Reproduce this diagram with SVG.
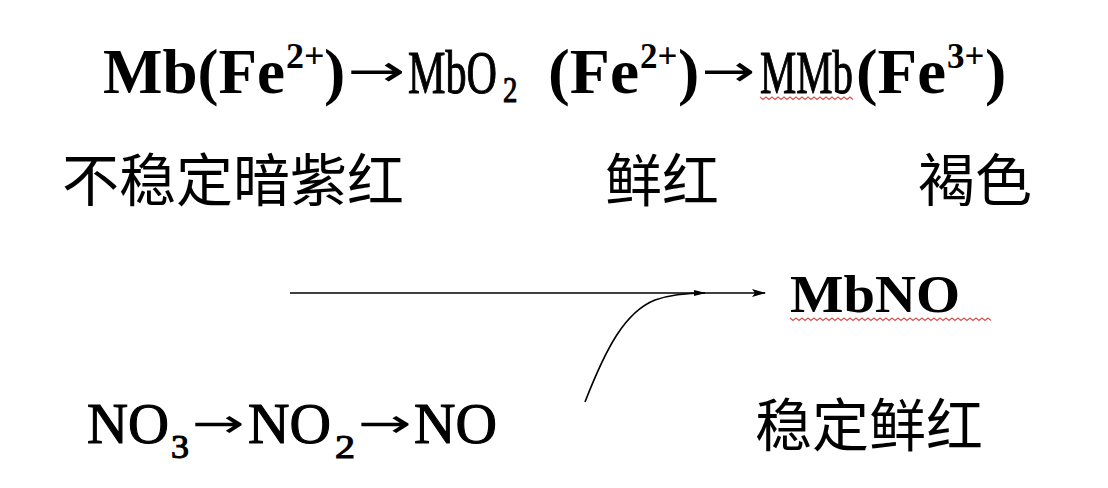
<svg xmlns="http://www.w3.org/2000/svg" width="1108" height="488" viewBox="0 0 1108 488">
<style>
.b{font-family:"Liberation Serif","Times New Roman",serif;font-weight:bold;fill:#000}
.r{font-family:"Liberation Serif","Times New Roman",serif;font-weight:normal;fill:#000;stroke:#000;stroke-width:1.1}
.cn{font-family:"Noto Sans CJK SC","Noto Sans",sans-serif;font-size:57px;fill:#000}
.ar{font-family:"DejaVu Sans","Liberation Serif",serif;fill:#000}
.wave{fill:none;stroke:#d9534f;stroke-width:1.2}
.conn{fill:none;stroke:#000;stroke-width:1.6}
</style>
<defs>
<marker id="ah" markerWidth="14" markerHeight="10" refX="13" refY="5" orient="auto" markerUnits="userSpaceOnUse">
<path d="M0,1 L14,5 L0,9 L3,5 Z" fill="#000"/>
</marker>
<marker id="ah2" markerWidth="12" markerHeight="8" refX="11" refY="4" orient="auto" markerUnits="userSpaceOnUse">
<path d="M0,1 L12,4 L0,7 Z" fill="#000"/>
</marker>
</defs>
<rect width="1108" height="488" fill="#fff"/>

<g id="mb-fe2">
<text class="b" x="103" y="93" font-size="64" textLength="182" lengthAdjust="spacingAndGlyphs">Mb(Fe</text>
<text class="b" x="286" y="68" font-size="36">2+</text>
<text class="b" x="324" y="93" font-size="64">)</text>
</g>
<g id="arrow1"><text class="ar" x="347" y="86" font-size="44" textLength="58" lengthAdjust="spacingAndGlyphs">→</text></g>
<g id="mbo2-fe2">
<text class="r" transform="translate(408,93) scale(0.68,1)" font-size="62">MbO</text>
<text class="r" transform="translate(503,102) scale(0.8,1)" font-size="36">2</text>
<text class="b" x="548" y="93" font-size="64" textLength="91" lengthAdjust="spacingAndGlyphs">(Fe</text>
<text class="b" x="640" y="68" font-size="35">2+</text>
<text class="b" x="678" y="93" font-size="64">)</text>
</g>
<g id="arrow2"><text class="ar" x="701" y="86" font-size="44" textLength="54" lengthAdjust="spacingAndGlyphs">→</text></g>
<g id="mmb-fe3">
<text class="r" transform="translate(760,93) scale(0.658,1)" font-size="62">MMb</text>
<path class="wave" d="M760,97 l3,2.5 l3,-2.5 l3,2.5 l3,-2.5 l3,2.5 l3,-2.5 l3,2.5 l3,-2.5 l3,2.5 l3,-2.5 l3,2.5 l3,-2.5 l3,2.5 l3,-2.5 l3,2.5 l3,-2.5 l3,2.5 l3,-2.5 l3,2.5 l3,-2.5 l3,2.5 l3,-2.5 l3,2.5 l3,-2.5 l3,2.5 l3,-2.5 l3,2.5 l3,-2.5 l3,2.5 l3,-2.5 l3,2.5"/>
<text class="b" x="856" y="93" font-size="64" textLength="90" lengthAdjust="spacingAndGlyphs">(Fe</text>
<text class="b" x="947" y="68" font-size="35">3+</text>
<text class="b" x="985" y="93" font-size="64">)</text>
</g>

<g id="label-unstable"><text class="cn" x="62" y="201">不稳定暗紫红</text></g>
<g id="label-bright"><text class="cn" x="605" y="201">鲜红</text></g>
<g id="label-brown"><text class="cn" x="918" y="201">褐色</text></g>

<g id="mbno">
<text class="b" x="790" y="312" font-size="53" textLength="170" lengthAdjust="spacingAndGlyphs">MbNO</text>
<path class="wave" d="M790,318 l3,2.5 l3,-2.5 l3,2.5 l3,-2.5 l3,2.5 l3,-2.5 l3,2.5 l3,-2.5 l3,2.5 l3,-2.5 l3,2.5 l3,-2.5 l3,2.5 l3,-2.5 l3,2.5 l3,-2.5 l3,2.5 l3,-2.5 l3,2.5 l3,-2.5 l3,2.5 l3,-2.5 l3,2.5 l3,-2.5 l3,2.5 l3,-2.5 l3,2.5 l3,-2.5 l3,2.5 l3,-2.5 l3,2.5 l3,-2.5 l3,2.5 l3,-2.5 l3,2.5 l3,-2.5 l3,2.5 l3,-2.5 l3,2.5 l3,-2.5 l3,2.5 l3,-2.5 l3,2.5 l3,-2.5 l3,2.5 l3,-2.5 l3,2.5 l3,-2.5 l3,2.5 l3,-2.5 l3,2.5 l3,-2.5 l3,2.5 l3,-2.5 l3,2.5 l3,-2.5 l3,2.5 l3,-2.5 l3,2.5 l3,-2.5 l3,2.5 l3,-2.5 l3,2.5 l3,-2.5 l3,2.5 l3,-2.5 l3,2.5"/>
</g>
<g id="label-stable"><text class="cn" x="755" y="446">稳定鲜红</text></g>

<g id="no-chain">
<text class="r" x="87" y="443" font-size="57" textLength="82" lengthAdjust="spacingAndGlyphs">NO</text>
<text class="r" x="171" y="458" font-size="34" textLength="18" lengthAdjust="spacingAndGlyphs">3</text>
<text class="ar" x="192" y="437" font-size="40" textLength="53" lengthAdjust="spacingAndGlyphs">→</text>
<text class="r" x="248" y="443" font-size="57" textLength="83" lengthAdjust="spacingAndGlyphs">NO</text>
<text class="r" x="335" y="458" font-size="34" textLength="20" lengthAdjust="spacingAndGlyphs">2</text>
<text class="ar" x="358" y="437" font-size="40" textLength="54" lengthAdjust="spacingAndGlyphs">→</text>
<text class="r" x="414" y="443" font-size="57" textLength="83" lengthAdjust="spacingAndGlyphs">NO</text>
</g>

<g id="connectors">
<line class="conn" x1="290" y1="293" x2="765" y2="293" marker-end="url(#ah)"/>
<path class="conn" d="M585,402 C606,348 625,312 655,300 C672,294 688,293 705,293" marker-end="url(#ah2)"/>
</g>
</svg>
